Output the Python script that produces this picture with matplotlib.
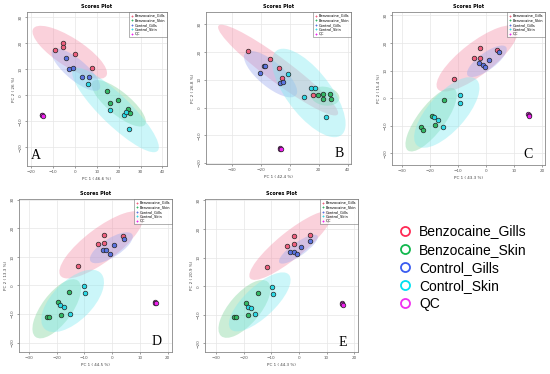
import matplotlib
matplotlib.use("Agg")
import matplotlib.pyplot as plt
from matplotlib.patches import Ellipse
from matplotlib.lines import Line2D
import numpy as np

# groups and colours
groups = ["Benzocaine_Gills", "Benzocaine_Skin", "Control_Gills", "Control_Skin", "QC"]
point_cols = ["#F0607E", "#33B864", "#5B74E0", "#2CD9E6", "#F020F0"]
fill_cols = ["#F48CA6", "#7FD39A", "#9AA8EE", "#7FEAF0", "#F080F0"]
legend_cols = ["#FF2A55", "#12B84E", "#3A5CF0", "#00E0F0", "#F030F0"]

# PCA scores (PC1, PC2)
a_benz_gills = [(-9.3, 17.6), (-5.3, 20.2), (-5.3, 18.4), (0.0, 16.0), (7.8, 10.5)]
a_benz_skin = [(14.8, 1.7), (15.9, -2.8), (19.7, -1.8), (24.4, -5.4), (25.3, -6.8)]
a_ctrl_gills = [(-4.1, 14.3), (-2.6, 10.2), (-0.8, 10.7), (3.2, 6.9), (6.3, 7.2)]
a_ctrl_skin = [(6.1, 4.2), (16.2, -5.5), (22.6, -7.4), (23.1, -6.5), (24.6, -12.8)]
a_qc = [(-15.3, -7.5), (-15.1, -7.7), (-14.9, -7.9)]

b_benz_gills = [(-28.6, 20.4), (-13.8, 17.7), (-7.6, 14.3), (-5.3, 10.8), (15.9, 4.4)]
b_benz_skin = [(19.4, 4.7), (23.1, 4.9), (22.8, 3.0), (28.1, 4.8), (28.6, 3.1)]
b_ctrl_gills = [(-20.3, 12.5), (-17.5, 14.9), (-16.6, 14.9), (-6.5, 8.9), (-4.4, 9.1)]
b_ctrl_skin = [(-1.2, 12.0), (14.8, 7.1), (17.8, 6.9), (10.1, 3.7), (25.1, -3.4)]
b_qc = [(-6.8, -14.7), (-6.5, -14.9), (-6.2, -15.1)]

c_benz_gills = [(-11.5, 6.9), (-4.2, 14.6), (-2.1, 18.1), (-2.3, 14.6), (4.0, 17.6)]
c_benz_skin = [(-14.9, -0.7), (-19.4, -6.4), (-18.2, -9.6), (-23.2, -10.6), (-22.7, -11.6)]
c_ctrl_gills = [(-2.5, 12.8), (-1.2, 11.9), (-0.5, 11.4), (1.0, 14.0), (4.6, 16.7)]
c_ctrl_skin = [(-9.5, 1.2), (-9.5, -1.6), (-18.6, -7.0), (-17.4, -8.0), (-15.4, -10.5)]
c_qc = [(15.0, -5.9), (15.2, -6.1), (15.4, -6.3)]

d_benz_gills = [(-12.4, 6.8), (-5.0, 14.5), (-2.9, 17.6), (-2.9, 14.9), (3.8, 17.4)]
d_benz_skin = [(-15.6, -2.3), (-19.5, -5.9), (-18.5, -10.4), (-23.4, -11.0), (-22.7, -11.2)]
d_ctrl_gills = [(-3.4, 12.3), (-2.2, 12.3), (-0.7, 11.2), (0.5, 14.1), (4.3, 16.2)]
d_ctrl_skin = [(-10.1, -0.1), (-9.7, -2.5), (-18.8, -6.9), (-17.5, -7.5), (-15.0, -10.0)]
d_qc = [(15.3, -5.8), (15.5, -6.0), (15.7, -6.2)]

e_benz_gills = [(-11.7, 6.6), (-4.2, 14.2), (-1.6, 17.6), (-1.8, 14.9), (4.2, 17.9)]
e_benz_skin = [(-14.9, -2.3), (-19.2, -5.7), (-18.3, -10.2), (-23.4, -10.6), (-22.8, -10.9)]
e_ctrl_gills = [(-3.1, 11.9), (-1.7, 11.9), (-0.8, 11.3), (0.7, 13.8), (4.0, 15.9)]
e_ctrl_skin = [(-9.8, -0.3), (-9.5, -2.7), (-18.4, -7.1), (-17.3, -7.6), (-15.9, -9.7)]
e_qc = [(15.5, -6.0), (15.7, -6.2), (15.9, -6.4)]

pc1_labels = ["PC 1 ( 46.6 %)", "PC 1 ( 42.4 %)", "PC 1 ( 43.3 %)", "PC 1 ( 44.5 %)", "PC 1 ( 44.3 %)"]
pc2_labels = ["PC 2 ( 26 %)", "PC 2 ( 26.8 %)", "PC 2 ( 15.4 %)", "PC 2 ( 13.3 %)", "PC 2 ( 20.9 %)"]

CHI2_95 = 5.991  # chi-square 2 df, 95 %

fig = plt.figure(figsize=(5.5, 3.74), dpi=100)


def conf_ellipse(ax, pts, color):
    pts = np.asarray(pts)
    cov = np.cov(pts[:, 0], pts[:, 1])
    vals, vecs = np.linalg.eigh(cov)
    order = vals.argsort()[::-1]
    vals, vecs = vals[order], vecs[:, order]
    ang = np.degrees(np.arctan2(vecs[1, 0], vecs[0, 0]))
    w, h = 2 * np.sqrt(CHI2_95 * vals)
    h = h * 1.5  # reference ellipses are fatter than the read points give
    ax.add_patch(Ellipse(pts.mean(axis=0), w * 1.05, h, angle=ang, facecolor=color,
                         edgecolor="none", alpha=0.4, zorder=1))


def panel(rect, sets, xlim, ylim, xticks, yticks, xlab, ylab, letter, lpos):
    ax = fig.add_axes(rect)
    for pts, pc, fc in zip(sets, point_cols, fill_cols):
        conf_ellipse(ax, pts, fc)
    for pts, pc in zip(sets, point_cols):
        p = np.asarray(pts)
        ax.scatter(p[:, 0], p[:, 1], s=11, c=pc, edgecolors="#222222",
                   linewidths=0.5, zorder=3)
    ax.set_xlim(xlim)
    ax.set_ylim(ylim)
    ax.set_xticks(xticks)
    ax.set_yticks(yticks)
    ax.grid(True, color="#E6E6E6", linewidth=0.5, zorder=0)
    ax.set_axisbelow(True)
    ax.tick_params(labelsize=3, length=1.5, width=0.4, pad=1.5, colors="#555555")
    for lbl in ax.get_yticklabels():
        lbl.set_rotation(90)
        lbl.set_va("center")
    for s in ax.spines.values():
        s.set_color("#888888")
        s.set_linewidth(0.6)
    ax.set_xlabel(xlab, fontsize=3, labelpad=2, color="#444444")
    ax.set_ylabel(ylab, fontsize=3, labelpad=2, color="#444444")
    ax.set_title("Scores Plot", fontsize=3.5, fontweight="bold", pad=3)
    handles = [Line2D([], [], marker="+", linestyle="none", color=c, markersize=2,
                      markeredgewidth=0.6, label=g) for g, c in zip(groups, point_cols)]
    leg = ax.legend(handles=handles, loc="upper right", fontsize=2.6, frameon=True,
                    fancybox=False, borderpad=0.4, labelspacing=0.15, handlelength=0.8,
                    handletextpad=0.4, borderaxespad=0.1)
    leg.get_frame().set_edgecolor("#555555")
    leg.get_frame().set_linewidth(0.4)
    ax.text(lpos[0], lpos[1], letter, transform=ax.transAxes, fontsize=10,
            family="Liberation Serif", ha="center", va="center")
    return ax


W, H = 550.0, 374.0


def rect(l, r, t, b):
    return [l / W, 1 - b / H, (r - l) / W, (b - t) / H]


ticks_y = [30, 20, 10, 0, -10, -20]

panel(rect(27, 167, 12, 166),
      [a_benz_gills, a_benz_skin, a_ctrl_gills, a_ctrl_skin, a_qc],
      (-22.0, 42.1), (-27.1, 32.0), [-20, -10, 0, 10, 20, 30, 40], ticks_y,
      pc1_labels[0], pc2_labels[0], "A", (0.06, 0.07))
panel(rect(206, 351, 12, 164),
      [b_benz_gills, b_benz_skin, b_ctrl_gills, b_ctrl_skin, b_qc],
      (-57.6, 42.4), (-20.4, 34.5), [-40, -20, 0, 20, 40], ticks_y,
      pc1_labels[1], pc2_labels[1], "B", (0.92, 0.07))
panel(rect(392, 545, 12, 165),
      [c_benz_gills, c_benz_skin, c_ctrl_gills, c_ctrl_skin, c_qc],
      (-33.7, 21.1), (-24.2, 31.2), [-30, -20, -10, 0, 10, 20], ticks_y,
      pc1_labels[2], pc2_labels[2], "C", (0.89, 0.07))
panel(rect(19, 172, 199, 352),
      [d_benz_gills, d_benz_skin, d_ctrl_gills, d_ctrl_skin, d_qc],
      (-33.5, 21.5), (-23.3, 30.3), [-30, -20, -10, 0, 10, 20], ticks_y,
      pc1_labels[3], pc2_labels[3], "D", (0.90, 0.07))
panel(rect(205, 358, 199, 352),
      [e_benz_gills, e_benz_skin, e_ctrl_gills, e_ctrl_skin, e_qc],
      (-34.0, 21.4), (-23.0, 30.5), [-30, -20, -10, 0, 10, 20], ticks_y,
      pc1_labels[4], pc2_labels[4], "E", (0.90, 0.06))

# big legend on the right
big = [Line2D([], [], marker="o", linestyle="none", markerfacecolor="none",
              markeredgecolor=c, markeredgewidth=1.3, markersize=6.5, label=g)
       for g, c in zip(groups, legend_cols)]
fig.legend(handles=big, loc="upper left", bbox_to_anchor=(386 / W, 1 - 212 / H),
           frameon=False, labelspacing=0.3, handletextpad=0.5,
           handlelength=1.0, prop={"family": "Liberation Sans", "size": 10})

fig.savefig("out.png", dpi=100)
